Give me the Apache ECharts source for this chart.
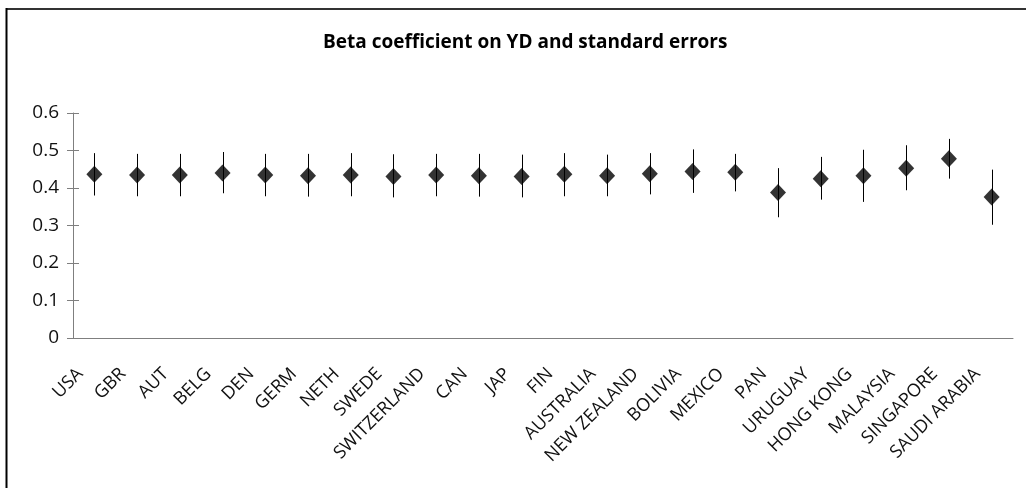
<!DOCTYPE html>
<html>
<head>
<meta charset="utf-8">
<script src="https://cdn.jsdelivr.net/npm/echarts@6/dist/echarts.min.js"></script>
<style>
html,body{margin:0;padding:0;background:#fff;}
#chart{width:1026px;height:488px;}
</style>
</head>
<body>
<div id="chart"></div>
<script>
const categories = ['USA','GBR','AUT','BELG','DEN','GERM','NETH','SWEDE','SWITZERLAND','CAN','JAP','FIN','AUSTRALIA','NEW ZEALAND','BOLIVIA','MEXICO','PAN','URUGUAY','HONG KONG','MALAYSIA','SINGAPORE','SAUDI ARABIA'];
const beta  = [0.437,0.435,0.435,0.440,0.435,0.433,0.435,0.431,0.435,0.433,0.431,0.437,0.433,0.438,0.444,0.442,0.388,0.425,0.433,0.453,0.478,0.376];
const upper = [0.493,0.491,0.491,0.496,0.491,0.491,0.493,0.490,0.491,0.491,0.489,0.493,0.489,0.493,0.503,0.491,0.453,0.483,0.502,0.514,0.531,0.449];
const lower = [0.380,0.378,0.378,0.386,0.378,0.377,0.378,0.375,0.378,0.377,0.375,0.378,0.378,0.383,0.387,0.391,0.322,0.369,0.363,0.394,0.425,0.302];
const yTicks = [0,0.1,0.2,0.3,0.4,0.5,0.6];
const titleText = 'Beta coefficient on YD and standard errors';

const FONT = '"Open Sans", sans-serif';
const chart = echarts.init(document.getElementById('chart'));
const errData = categories.map((c,i)=>[i, lower[i], upper[i]]);
const grid = {left:73, right:13, top:113, bottom:150};
chart.setOption({
  animation:false,
  backgroundColor:'#fff',
  title:{text:titleText, left:318, top:28, textStyle:{fontFamily:FONT, fontWeight:'bold', fontSize:19, color:'#000'}},
  graphic:[
    {type:'line', shape:{x1:6,y1:9,x2:1026,y2:9}, style:{stroke:'#333',lineWidth:2}},
    {type:'line', shape:{x1:6.5,y1:8,x2:6.5,y2:488}, style:{stroke:'#000',lineWidth:2}}
  ],
  grid:grid,
  xAxis:[
    {type:'category', data:categories, position:'bottom', boundaryGap:true,
     axisLine:{lineStyle:{color:'#7f7f7f',width:1}},
     axisTick:{length:6, lineStyle:{color:'#7f7f7f'}},
     axisLabel:{rotate:45, interval:0, fontFamily:FONT, fontSize:18, color:'#111', margin:19, padding:[0,20,0,0]}},
    {type:'category', data:categories, position:'bottom', boundaryGap:true,
     axisLine:{show:false}, axisTick:{inside:true, length:6, lineStyle:{color:'#7f7f7f'}}, axisLabel:{show:false}}
  ],
  yAxis:[
    {type:'value', min:0, max:0.6, interval:0.1, splitLine:{show:false},
     axisLine:{show:true, lineStyle:{color:'#7f7f7f'}},
     axisTick:{show:true, length:6, lineStyle:{color:'#7f7f7f'}},
     axisLabel:{fontFamily:FONT, fontSize:19, color:'#111', margin:14,
       formatter:v=>{const t=yTicks.find(x=>Math.abs(x-v)<1e-9); return t===undefined?'':String(t);}}},
    {type:'value', min:0, max:0.6, interval:0.1, position:'left', splitLine:{show:false},
     axisLine:{show:false}, axisTick:{show:true, inside:true, length:6, lineStyle:{color:'#7f7f7f'}}, axisLabel:{show:false}}
  ],
  series:[
    {type:'custom', name:'se', xAxisIndex:0, yAxisIndex:0, data:errData,
     renderItem:function(params, api){
       const p1 = api.coord([api.value(0), api.value(1)]);
       const p2 = api.coord([api.value(0), api.value(2)]);
       return {type:'line', shape:{x1:Math.round(p1[0])+0.5,y1:p1[1],x2:Math.round(p2[0])+0.5,y2:p2[1]}, style:{stroke:'#000',lineWidth:1}};
     }, z:2},
    {type:'scatter', name:'beta', data:beta, symbol:'diamond', symbolSize:[16,17],
     itemStyle:{color:'#000'}, z:3}
  ]
});
</script>
</body>
</html>
